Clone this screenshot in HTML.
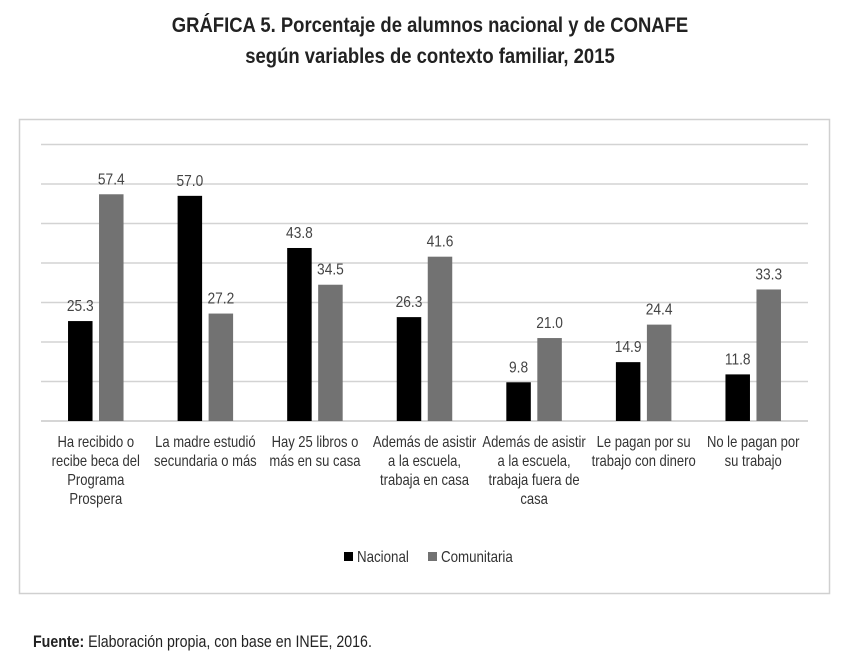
<!DOCTYPE html>
<html><head><meta charset="utf-8"><style>
body{margin:0;background:#fff;width:860px;height:663px;overflow:hidden;font-family:"Liberation Sans",sans-serif;}
svg text{font-family:"Liberation Sans",sans-serif;}
</style></head><body>
<svg id="c" width="860" height="663" xmlns="http://www.w3.org/2000/svg">
<text transform="translate(430,32) scale(0.88,1)" text-anchor="middle" font-size="21" font-weight="bold" fill="#222">GRÁFICA 5. Porcentaje de alumnos nacional y de CONAFE</text>
<text transform="translate(430,63) scale(0.88,1)" text-anchor="middle" font-size="21" font-weight="bold" fill="#222">según variables de contexto familiar, 2015</text>
<rect x="19.5" y="119.5" width="810" height="474" fill="none" stroke="#d0d0d0" stroke-width="1.5"/>
<g id="grid"></g><g id="bars"></g><g id="labels"></g>
<g>
<rect x="344" y="552" width="9" height="9" fill="#000"/>
<text transform="translate(357,562) scale(0.86,1)" font-size="15.5" fill="#333">Nacional</text>
<rect x="428" y="552" width="9" height="9" fill="#727272"/>
<text transform="translate(441,562) scale(0.86,1)" font-size="15.5" fill="#333">Comunitaria</text>
</g>
<text transform="translate(33,647) scale(0.86,1)" font-size="16.5" fill="#222"><tspan font-weight="bold">Fuente:</tspan> Elaboración propia, con base en INEE, 2016.</text>
</svg>
<script>
const categories=[["Ha recibido o","recibe beca del","Programa","Prospera"],["La madre estudió","secundaria o más"],["Hay 25 libros o","más en su casa"],["Además de asistir","a la escuela,","trabaja en casa"],["Además de asistir","a la escuela,","trabaja fuera de","casa"],["Le pagan por su","trabajo con dinero"],["No le pagan por","su trabajo"]];
const nacional=[25.3,57.0,43.8,26.3,9.8,14.9,11.8];
const comunitaria=[57.4,27.2,34.5,41.6,21.0,24.4,33.3];
const gridTicks=[10,20,30,40,50,60,70];
const NS="http://www.w3.org/2000/svg";
const x0=41,x1=808,y0=421,pxPer=3.95;
const band=(x1-x0)/categories.length;
const y=v=>y0-v*pxPer;
const cx=i=>x0+band*(i+0.5);
function mk(tag,attrs,parent){const e=document.createElementNS(NS,tag);for(const k in attrs)e.setAttribute(k,attrs[k]);document.getElementById(parent).appendChild(e);return e;}
gridTicks.forEach(t=>{const l=mk('line',{x1:x0,x2:x1,y1:y(t),y2:y(t),stroke:'#d3d3d3','stroke-width':1.5},'grid');

});
const base=mk('line',{x1:x0,x2:x1,y1:y0,y2:y0,stroke:'#c8c8c8','stroke-width':1.5},'grid');


const bw=24.5,gap=6.5;
function bar(i,v,off,fill,name){
 const r=mk('rect',{x:cx(i)+off,y:y(v),width:bw,height:y0-y(v),fill:fill},'bars');
 
 
 const t=mk('text',{transform:'translate('+(cx(i)+off+bw/2)+','+(y(v)-10)+') scale(0.86,1)','text-anchor':'middle','font-size':16,fill:'#444'},'labels');
 t.textContent=v.toFixed(1);
 
 
}
categories.forEach((c,i)=>{
 bar(i,nacional[i],-gap/2-bw,'#000','nacional');
 bar(i,comunitaria[i],gap/2,'#727272','comunitaria');
 c.forEach((line,j)=>{const t=mk('text',{transform:'translate('+cx(i)+','+(447+j*19)+') scale(0.84,1)','text-anchor':'middle','font-size':15.5,fill:'#333'},'labels');
 t.textContent=line;
 
 });
});
</script>
</body></html>
